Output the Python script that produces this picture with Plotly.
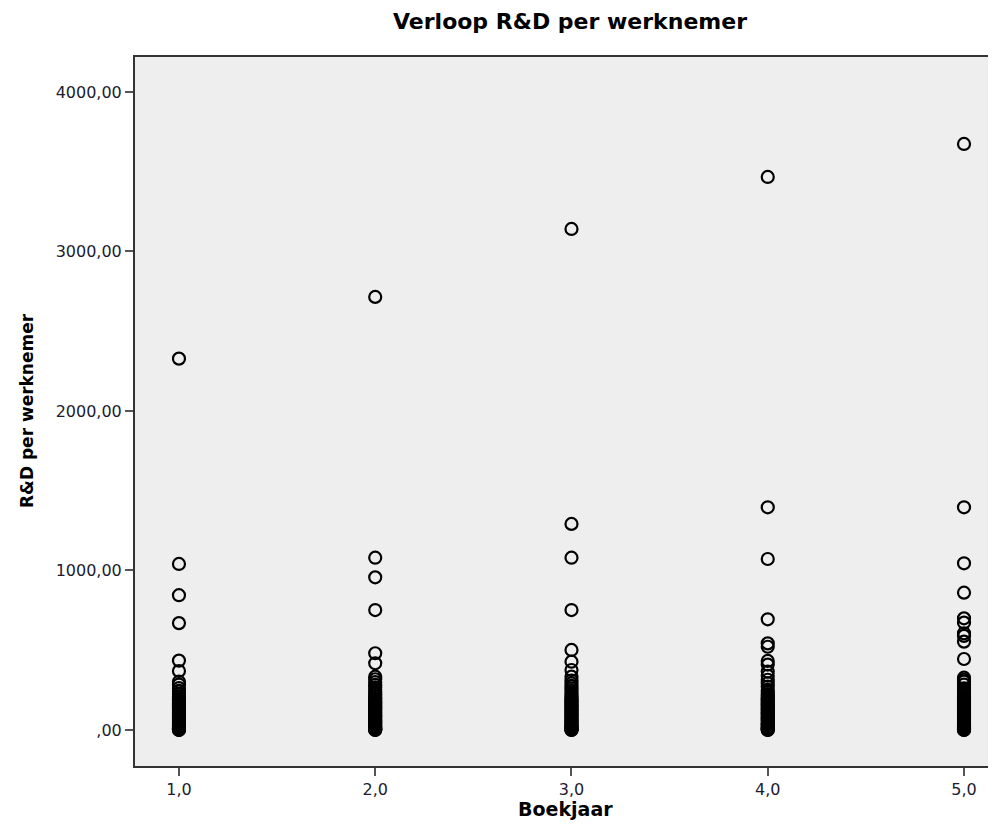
import plotly.graph_objects as go

# ---- data ----
years = [1.0, 2.0, 3.0, 4.0, 5.0]
x_tick_labels = ["1,0", "2,0", "3,0", "4,0", "5,0"]
y_tick_values = [0, 1000, 2000, 3000, 4000]
y_tick_labels = [",00", "1000,00", "2000,00", "3000,00", "4000,00"]

rd_year1 = [2328, 1041, 845, 670, 435, 370, 303, 285, 263, 245, 225, 209, 198, 190, 183, 176,
            169, 162, 155, 148, 141, 134, 127, 120, 113, 106, 99, 92, 85, 78, 71, 64, 57, 50,
            44, 38, 32, 26, 21, 16, 12, 8, 5, 3, 1, 0]
rd_year2 = [2715, 1080, 957, 752, 481, 418, 334, 318, 300, 283, 268, 252, 238, 224, 212, 200,
            192, 184, 176, 168, 160, 152, 144, 136, 128, 120, 112, 104, 96, 88, 80, 72, 64,
            56, 48, 41, 34, 27, 21, 15, 10, 6, 3, 1, 0]
rd_year3 = [3141, 1292, 1080, 752, 502, 428, 376, 334, 310, 292, 276, 260, 246, 232, 220, 208,
            198, 190, 182, 174, 166, 158, 150, 142, 134, 126, 118, 110, 102, 94, 86, 78, 70,
            62, 54, 47, 40, 33, 27, 21, 15, 10, 6, 3, 1, 0]
rd_year4 = [3467, 1396, 1072, 694, 543, 522, 433, 410, 366, 340, 315, 293, 272, 251, 238, 225,
            214, 204, 195, 187, 179, 171, 163, 155, 147, 139, 131, 123, 115, 107, 99, 91, 83,
            75, 67, 59, 51, 44, 37, 30, 24, 18, 13, 8, 4, 1, 0]
rd_year5 = [3674, 1396, 1045, 861, 700, 673, 606, 590, 554, 445, 328, 315, 303, 285, 261, 245,
            232, 220, 210, 201, 193, 185, 177, 169, 161, 153, 145, 137, 129, 121, 113, 105, 97,
            89, 81, 73, 65, 57, 49, 42, 35, 28, 22, 16, 11, 7, 4, 1, 0]

series = [rd_year1, rd_year2, rd_year3, rd_year4, rd_year5]

xs, ys = [], []
for yr, vals in zip(years, series):
    xs.extend([yr] * len(vals))
    ys.extend(vals)

fig = go.Figure()
fig.add_trace(go.Scatter(
    x=xs, y=ys, mode="markers",
    marker=dict(symbol="circle-open", size=12, color="#000000",
                line=dict(width=2.2, color="#000000")),
    showlegend=False, hoverinfo="x+y",
))

axis_font = dict(family="DejaVu Sans", size=16, color="#1c1c30")

# The page body adds an 8px offset; figure sized to fill the remaining window.
W, H = 988, 829
L, T, B = 127, 49, 71
plot_w = W - L
plot_h = H - T - B

fig.update_layout(
    width=W, height=H,
    margin=dict(l=L, r=0, t=T, b=B),
    paper_bgcolor="#ffffff",
    plot_bgcolor="#eeeeee",
    title=dict(text="<b>Verloop R&D per werknemer</b>", xref="paper",
               x=(570 - 135) / plot_w, xanchor="center",
               y=1 - 13.5 / H, yanchor="middle",
               font=dict(family="DejaVu Sans", size=22, color="#000000")),
    xaxis=dict(
        range=[0.776, 5.163], tickvals=years, ticktext=x_tick_labels,
        showgrid=False, zeroline=False,
        showline=True, linecolor="#333333", linewidth=2, mirror=True,
        ticks="outside", ticklen=8, tickwidth=2, tickcolor="#555555",
        tickfont=axis_font,
    ),
    yaxis=dict(
        range=[-225.7, 4219], tickvals=y_tick_values, ticktext=y_tick_labels,
        showgrid=False, zeroline=False,
        showline=True, linecolor="#333333", linewidth=2,
        ticks="outside", ticklen=8, tickwidth=2, tickcolor="#555555",
        tickfont=axis_font,
    ),
    annotations=[
        dict(text="<b>Boekjaar</b>", xref="paper", yref="paper",
             x=(565 - 135) / plot_w, y=-(809 - 766) / plot_h,
             xanchor="center", yanchor="middle", showarrow=False,
             font=dict(family="DejaVu Sans", size=19, color="#000000")),
        dict(text="<b>R&D per werknemer</b>", xref="paper", yref="paper",
             x=-(135 - 27) / plot_w, y=(766 - 411) / plot_h, textangle=-90,
             xanchor="center", yanchor="middle", showarrow=False,
             font=dict(family="DejaVu Sans", size=17, color="#000000")),
    ],
)

fig.write_html("out.html")
